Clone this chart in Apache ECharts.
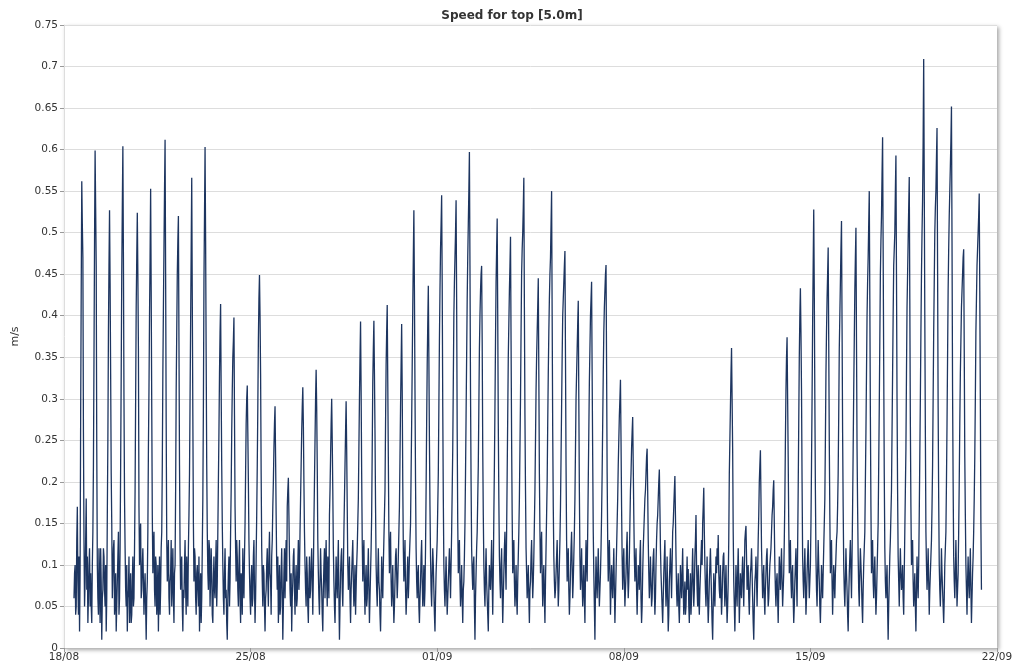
<!DOCTYPE html>
<html>
<head>
<meta charset="utf-8">
<script src="https://cdn.jsdelivr.net/npm/echarts@6/dist/echarts.min.js"></script>
<style>
html,body{margin:0;padding:0;background:#fff;}
#chart{width:1024px;height:670px;}
</style>
</head>
<body>
<div id="chart"></div>
<script>
// x axis: hours since 18/08 00:00; one tick label per week
const tickLabels = ['18/08','25/08','01/09','08/09','15/09','22/09'];
const startHour = 9;    // first sample: 18/08 09:00
const stepHours = 0.5;  // half-hourly samples

// speed (m/s), 18/08 09:00 - 24/08 23:30
const week1 = [
/* 9 */   0.06,0.09,0.10,0.04,0.05,0.13,
/* 12 */  0.17,0.08,0.04,0.11,0.02,0.09,0.28,0.43,0.562,0.51,0.47,0.26,0.13,0.05,0.08,0.13,0.18,0.07,0.11,0.03,0.06,0.10,0.12,0.05,
/* 24 */  0.09,0.05,0.03,0.10,0.14,0.22,0.35,0.49,0.599,0.53,0.46,0.24,0.10,0.06,0.04,0.12,0.08,0.03,0.12,0.08,0.01,0.06,0.07,0.12,
/* 36 */  0.11,0.07,0.05,0.10,0.02,0.06,0.16,0.25,0.38,0.46,0.527,0.44,0.33,0.21,0.15,0.06,0.09,0.12,0.13,0.04,0.06,0.09,0.02,0.05,
/* 48 */  0.08,0.11,0.14,0.04,0.06,0.12,0.22,0.33,0.45,0.53,0.604,0.47,0.30,0.18,0.12,0.07,0.05,0.10,0.02,0.06,0.07,0.11,0.03,0.06,
/* 60 */  0.09,0.03,0.04,0.08,0.11,0.05,0.06,0.12,0.19,0.30,0.41,0.47,0.524,0.45,0.36,0.17,0.10,0.13,0.15,0.06,0.07,0.10,0.12,0.08,
/* 72 */  0.04,0.07,0.09,0.05,0.01,0.06,0.08,0.14,0.24,0.31,0.40,0.47,0.553,0.43,0.29,0.16,0.09,0.12,0.14,0.07,0.05,0.11,0.10,0.04,
/* 84 */  0.06,0.10,0.02,0.07,0.11,0.04,0.07,0.12,0.14,0.22,0.33,0.41,0.48,0.55,0.612,0.45,0.27,0.13,0.08,0.11,0.13,0.06,0.04,0.08,
/* 96 */  0.09,0.13,0.05,0.08,0.12,0.06,0.03,0.09,0.10,0.19,0.31,0.38,0.45,0.49,0.52,0.37,0.22,0.12,0.07,0.10,0.11,0.05,0.02,0.07,
/* 108 */ 0.06,0.10,0.13,0.07,0.04,0.11,0.08,0.05,0.12,0.16,0.21,0.30,0.39,0.48,0.566,0.42,0.28,0.15,0.08,0.12,0.11,0.06,0.04,0.09,
/* 120 */ 0.10,0.07,0.05,0.11,0.02,0.06,0.09,0.03,0.06,0.12,0.18,0.29,0.44,0.52,0.603,0.49,0.35,0.22,0.14,0.09,0.07,0.13,0.12,0.05,
/* 132 */ 0.05,0.12,0.09,0.04,0.03,0.08,0.11,0.07,0.06,0.10,0.13,0.05,0.08,0.14,0.20,0.26,0.33,0.38,0.414,0.31,0.22,0.15,0.10,0.06,
/* 144 */ 0.04,0.09,0.12,0.06,0.07,0.03,0.01,0.06,0.09,0.11,0.05,0.08,0.14,0.19,0.26,0.31,0.35,0.37,0.398,0.28,0.17,0.12,0.08,0.13,
/* 156 */ 0.11,0.07,0.05,0.10,0.13,0.06,0.03,0.09,0.08,0.04,0.12,0.08,0.06,0.11,0.15,0.21,0.27,0.30,0.316,0.26,0.20,0.13,0.09,0.06
];
// 25/08 00:00 - 31/08 23:30
const week2 = [
/* 168 */ 0.04,0.08,0.10,0.05,0.06,0.11,0.13,0.07,0.03,0.06,0.11,0.16,0.22,0.29,0.37,0.42,0.449,0.40,0.33,0.21,0.12,0.08,0.05,0.10,
/* 180 */ 0.09,0.05,0.02,0.06,0.07,0.10,0.12,0.08,0.05,0.11,0.14,0.09,0.08,0.04,0.11,0.13,0.17,0.20,0.24,0.27,0.291,0.23,0.16,0.10,
/* 192 */ 0.07,0.11,0.03,0.06,0.10,0.04,0.05,0.09,0.12,0.07,0.01,0.05,0.09,0.12,0.06,0.10,0.13,0.08,0.17,0.19,0.205,0.16,0.11,0.07,
/* 204 */ 0.05,0.09,0.02,0.06,0.08,0.11,0.12,0.07,0.04,0.08,0.10,0.05,0.06,0.10,0.13,0.07,0.09,0.14,0.18,0.22,0.26,0.29,0.314,0.27,
/* 216 */ 0.20,0.14,0.10,0.07,0.05,0.11,0.09,0.05,0.03,0.08,0.11,0.06,0.07,0.10,0.12,0.08,0.04,0.09,0.15,0.20,0.25,0.30,0.335,0.29,
/* 228 */ 0.22,0.13,0.09,0.06,0.04,0.08,0.12,0.09,0.07,0.04,0.02,0.07,0.10,0.12,0.06,0.10,0.13,0.08,0.05,0.11,0.09,0.06,0.16,0.19,
/* 240 */ 0.23,0.27,0.30,0.25,0.19,0.12,0.08,0.05,0.03,0.07,0.11,0.08,0.06,0.10,0.13,0.06,0.01,0.05,0.09,0.11,0.12,0.07,0.05,0.09,
/* 252 */ 0.14,0.18,0.22,0.26,0.297,0.24,0.17,0.10,0.07,0.09,0.11,0.06,0.03,0.07,0.09,0.11,0.13,0.08,0.05,0.07,0.10,0.04,0.07,0.10,
/* 264 */ 0.12,0.15,0.18,0.24,0.30,0.35,0.393,0.31,0.21,0.13,0.08,0.11,0.13,0.07,0.04,0.08,0.10,0.05,0.06,0.09,0.12,0.07,0.03,0.06,
/* 276 */ 0.09,0.12,0.16,0.24,0.32,0.36,0.394,0.33,0.26,0.17,0.10,0.07,0.05,0.09,0.12,0.08,0.07,0.04,0.02,0.06,0.11,0.08,0.06,0.10,
/* 288 */ 0.13,0.16,0.19,0.27,0.34,0.38,0.413,0.32,0.23,0.14,0.09,0.12,0.14,0.08,0.05,0.07,0.10,0.06,0.03,0.05,0.08,0.11,0.12,0.09,
/* 300 */ 0.06,0.08,0.11,0.14,0.17,0.23,0.29,0.34,0.39,0.31,0.20,0.12,0.08,0.10,0.13,0.07,0.04,0.06,0.09,0.11,0.06,0.08,0.11,0.13,
/* 312 */ 0.15,0.21,0.27,0.34,0.41,0.47,0.527,0.43,0.31,0.20,0.12,0.08,0.06,0.09,0.10,0.05,0.03,0.06,0.08,0.11,0.13,0.08,0.05,0.07,
/* 324 */ 0.10,0.05,0.07,0.12,0.19,0.27,0.34,0.39,0.436,0.35,0.25,0.17,0.11,0.07,0.05,0.09,0.12,0.10,0.07,0.04,0.02,0.06,0.09,0.11
];
// 01/09 00:00 - 07/09 23:30
const week3 = [
/* 336 */ 0.13,0.17,0.21,0.29,0.37,0.43,0.48,0.51,0.545,0.44,0.29,0.18,0.10,0.07,0.05,0.08,0.11,0.07,0.04,0.06,0.08,0.10,0.12,0.09,
/* 348 */ 0.06,0.10,0.14,0.19,0.24,0.32,0.40,0.44,0.47,0.50,0.539,0.42,0.26,0.15,0.09,0.11,0.13,0.08,0.05,0.07,0.10,0.06,0.03,0.07,
/* 360 */ 0.08,0.11,0.15,0.21,0.28,0.35,0.42,0.47,0.51,0.55,0.597,0.46,0.31,0.20,0.12,0.09,0.07,0.10,0.11,0.05,0.01,0.06,0.09,0.12,
/* 372 */ 0.14,0.18,0.22,0.29,0.36,0.40,0.43,0.45,0.46,0.37,0.24,0.16,0.10,0.07,0.05,0.09,0.12,0.08,0.06,0.04,0.02,0.07,0.10,0.08,
/* 384 */ 0.07,0.10,0.13,0.08,0.04,0.09,0.16,0.22,0.29,0.37,0.44,0.48,0.517,0.40,0.27,0.18,0.11,0.08,0.06,0.10,0.12,0.07,0.03,0.06,
/* 396 */ 0.09,0.12,0.14,0.10,0.07,0.14,0.21,0.28,0.35,0.39,0.43,0.46,0.495,0.37,0.25,0.16,0.09,0.11,0.13,0.08,0.05,0.07,0.10,0.06,
/* 408 */ 0.04,0.08,0.11,0.14,0.18,0.24,0.30,0.38,0.45,0.48,0.50,0.53,0.566,0.41,0.28,0.19,0.12,0.09,0.06,0.08,0.10,0.06,0.03,0.07,
/* 420 */ 0.08,0.11,0.13,0.09,0.06,0.08,0.11,0.15,0.19,0.25,0.31,0.35,0.38,0.41,0.445,0.33,0.21,0.14,0.09,0.12,0.14,0.09,0.05,0.08,
/* 432 */ 0.10,0.06,0.03,0.08,0.12,0.16,0.20,0.27,0.33,0.38,0.42,0.45,0.47,0.51,0.55,0.40,0.26,0.17,0.11,0.08,0.06,0.07,0.09,0.11,
/* 444 */ 0.13,0.09,0.05,0.07,0.10,0.13,0.17,0.23,0.29,0.35,0.40,0.42,0.44,0.46,0.478,0.35,0.22,0.13,0.08,0.10,0.12,0.07,0.04,0.06,
/* 456 */ 0.09,0.12,0.14,0.10,0.06,0.08,0.11,0.14,0.18,0.24,0.30,0.33,0.36,0.39,0.418,0.30,0.19,0.11,0.07,0.09,0.12,0.08,0.05,0.07,
/* 468 */ 0.10,0.06,0.03,0.09,0.13,0.10,0.08,0.14,0.20,0.26,0.32,0.36,0.40,0.42,0.441,0.33,0.23,0.14,0.09,0.05,0.01,0.07,0.11,0.08,
/* 480 */ 0.06,0.09,0.12,0.08,0.05,0.07,0.09,0.12,0.16,0.21,0.27,0.33,0.38,0.41,0.43,0.45,0.461,0.34,0.21,0.13,0.08,0.11,0.13,0.09,
/* 492 */ 0.04,0.07,0.10,0.08,0.06,0.09,0.12,0.07,0.03,0.06,0.09,0.12,0.15,0.18,0.22,0.25,0.28,0.30,0.323,0.25,0.17,0.11,0.07,0.10
];
// 08/09 00:00 - 14/09 23:30
const week4 = [
/* 504 */ 0.12,0.08,0.05,0.07,0.09,0.12,0.14,0.09,0.06,0.08,0.11,0.15,0.19,0.21,0.24,0.26,0.278,0.22,0.16,0.11,0.08,0.10,0.12,0.07,
/* 516 */ 0.04,0.07,0.10,0.09,0.07,0.11,0.13,0.06,0.03,0.05,0.09,0.12,0.14,0.16,0.18,0.19,0.21,0.23,0.24,0.19,0.13,0.09,0.06,0.08,
/* 528 */ 0.11,0.08,0.05,0.06,0.09,0.11,0.12,0.07,0.04,0.06,0.10,0.13,0.15,0.16,0.18,0.20,0.215,0.17,0.12,0.09,0.07,0.05,0.03,0.06,
/* 540 */ 0.09,0.11,0.13,0.08,0.05,0.07,0.11,0.06,0.02,0.04,0.08,0.10,0.12,0.09,0.06,0.10,0.14,0.15,0.17,0.19,0.207,0.16,0.11,0.07,
/* 552 */ 0.05,0.07,0.09,0.05,0.03,0.06,0.10,0.08,0.06,0.09,0.12,0.07,0.04,0.06,0.08,0.04,0.05,0.08,0.11,0.07,0.095,0.05,0.03,0.07,
/* 564 */ 0.09,0.04,0.06,0.09,0.12,0.08,0.05,0.07,0.11,0.13,0.16,0.10,0.07,0.05,0.10,0.06,0.04,0.07,0.09,0.11,0.13,0.10,0.15,0.17,
/* 576 */ 0.193,0.14,0.10,0.07,0.05,0.08,0.11,0.06,0.03,0.05,0.08,0.10,0.12,0.09,0.06,0.03,0.01,0.05,0.09,0.07,0.05,0.08,0.11,0.09,
/* 588 */ 0.12,0.10,0.136,0.09,0.07,0.06,0.10,0.07,0.04,0.06,0.09,0.11,0.115,0.08,0.05,0.07,0.10,0.06,0.03,0.05,0.08,0.13,0.21,0.25,
/* 600 */ 0.29,0.33,0.361,0.30,0.24,0.14,0.08,0.05,0.02,0.06,0.10,0.07,0.05,0.09,0.12,0.08,0.03,0.06,0.09,0.07,0.06,0.09,0.11,0.08,
/* 612 */ 0.05,0.09,0.13,0.14,0.147,0.11,0.07,0.09,0.10,0.06,0.04,0.07,0.09,0.10,0.12,0.09,0.06,0.03,0.01,0.05,0.08,0.09,0.11,0.08,
/* 624 */ 0.05,0.09,0.13,0.16,0.20,0.22,0.238,0.18,0.12,0.09,0.06,0.08,0.10,0.06,0.04,0.07,0.09,0.11,0.12,0.08,0.05,0.06,0.08,0.10,
/* 636 */ 0.11,0.12,0.14,0.16,0.17,0.19,0.202,0.15,0.10,0.07,0.05,0.08,0.09,0.06,0.03,0.07,0.11,0.09,0.07,0.10,0.12,0.08,0.05,0.07,
/* 648 */ 0.09,0.13,0.18,0.25,0.31,0.35,0.374,0.30,0.23,0.15,0.09,0.11,0.13,0.08,0.06,0.09,0.10,0.06,0.03,0.05,0.08,0.10,0.12,0.08,
/* 660 */ 0.05,0.12,0.19,0.27,0.35,0.40,0.433,0.38,0.31,0.20,0.11,0.08,0.06,0.09,0.12,0.08,0.04,0.06,0.09,0.11,0.13,0.09,0.06,0.08
];
// 15/09 00:00 - 21/09 10:00
const week5 = [
/* 672 */ 0.10,0.15,0.22,0.30,0.39,0.46,0.528,0.43,0.30,0.19,0.11,0.07,0.05,0.09,0.13,0.10,0.08,0.05,0.03,0.06,0.10,0.08,0.06,0.09,
/* 684 */ 0.12,0.15,0.18,0.25,0.33,0.38,0.42,0.45,0.482,0.37,0.25,0.16,0.09,0.11,0.13,0.08,0.04,0.07,0.10,0.08,0.06,0.09,0.11,0.13,
/* 696 */ 0.14,0.17,0.21,0.28,0.36,0.40,0.44,0.48,0.514,0.39,0.26,0.17,0.10,0.07,0.05,0.08,0.12,0.09,0.07,0.04,0.02,0.06,0.09,0.11,
/* 708 */ 0.13,0.09,0.06,0.11,0.17,0.24,0.31,0.37,0.43,0.47,0.506,0.37,0.24,0.17,0.11,0.07,0.05,0.09,0.12,0.10,0.08,0.05,0.03,0.07,
/* 720 */ 0.10,0.12,0.14,0.20,0.26,0.33,0.40,0.44,0.47,0.51,0.55,0.42,0.28,0.17,0.09,0.11,0.13,0.08,0.06,0.09,0.11,0.07,0.04,0.06,
/* 732 */ 0.09,0.12,0.15,0.22,0.29,0.37,0.45,0.49,0.52,0.57,0.615,0.48,0.34,0.21,0.12,0.08,0.06,0.08,0.10,0.05,0.01,0.05,0.08,0.11,
/* 744 */ 0.13,0.16,0.19,0.26,0.33,0.40,0.46,0.48,0.50,0.55,0.593,0.45,0.30,0.19,0.11,0.08,0.05,0.09,0.12,0.09,0.07,0.08,0.10,0.06,
/* 756 */ 0.04,0.09,0.14,0.19,0.24,0.33,0.41,0.45,0.49,0.53,0.567,0.42,0.27,0.17,0.10,0.12,0.13,0.08,0.05,0.07,0.09,0.05,0.02,0.07,
/* 768 */ 0.11,0.08,0.06,0.10,0.16,0.23,0.30,0.38,0.45,0.50,0.54,0.61,0.709,0.56,0.40,0.26,0.14,0.10,0.07,0.09,0.12,0.08,0.04,0.07,
/* 780 */ 0.09,0.11,0.13,0.17,0.22,0.30,0.38,0.44,0.50,0.53,0.55,0.59,0.626,0.46,0.29,0.18,0.10,0.07,0.05,0.08,0.12,0.09,0.07,0.05,
/* 792 */ 0.03,0.06,0.10,0.12,0.14,0.20,0.27,0.35,0.43,0.48,0.52,0.55,0.58,0.61,0.652,0.49,0.31,0.20,0.11,0.08,0.06,0.09,0.13,0.09,
/* 804 */ 0.05,0.07,0.09,0.14,0.20,0.27,0.33,0.37,0.41,0.43,0.45,0.47,0.48,0.36,0.23,0.16,0.10,0.07,0.04,0.08,0.11,0.08,0.06,0.09,
/* 816 */ 0.12,0.07,0.03,0.06,0.09,0.11,0.14,0.18,0.23,0.30,0.38,0.42,0.46,0.48,0.50,0.52,0.547,0.43,0.30,0.15,0.07
];

const speed = [].concat(week1, week2, week3, week4, week5);
const seriesData = speed.map((v, i) => [startHour + i * stepHours, v]);

const chart = echarts.init(document.getElementById('chart'), null, {renderer: 'canvas'});
const FONT = 'DejaVu Sans, Verdana, sans-serif';
chart.setOption({
  animation: false,
  backgroundColor: '#ffffff',
  title: {
    text: 'Speed for top [5.0m]',
    left: 'center',
    top: 5,
    textStyle: {fontFamily: FONT, fontSize: 12, fontWeight: 'bold', color: '#333333'}
  },
  grid: {
    left: 64, right: 27, top: 25, bottom: 22,
    show: true,
    backgroundColor: '#ffffff',
    borderWidth: 0,
    shadowColor: 'rgba(0,0,0,0.35)',
    shadowBlur: 4,
    shadowOffsetX: 2,
    shadowOffsetY: 2
  },
  xAxis: {
    type: 'value',
    min: 0,
    max: 840,
    interval: 168,
    axisLine: {show: true, lineStyle: {color: '#bbbbbb'}},
    axisTick: {show: true, length: 4, lineStyle: {color: '#999999'}},
    splitLine: {show: false},
    axisLabel: {
      fontFamily: FONT, fontSize: 10.5, color: '#333333', margin: 4,
      formatter: v => tickLabels[Math.round(v / 168)]
    }
  },
  yAxis: {
    type: 'value',
    min: 0,
    max: 0.75,
    interval: 0.05,
    name: 'm/s',
    nameLocation: 'middle',
    nameGap: 43,
    nameTextStyle: {fontFamily: FONT, fontSize: 11, color: '#333333'},
    axisLine: {show: true, lineStyle: {color: '#dddddd'}},
    axisTick: {show: true, length: 4, lineStyle: {color: '#999999'}},
    splitLine: {show: true, lineStyle: {color: '#dddddd', width: 1}},
    axisLabel: {
      fontFamily: FONT, fontSize: 10.5, color: '#333333', margin: 6,
      formatter: v => String(Math.round(v * 100) / 100)
    }
  },
  series: [{
    type: 'line',
    data: seriesData,
    showSymbol: false,
    symbol: 'none',
    sampling: null,
    lineStyle: {color: '#1d3560', width: 1.3},
    itemStyle: {color: '#1d3560'}
  }]
});
</script>
</body>
</html>
